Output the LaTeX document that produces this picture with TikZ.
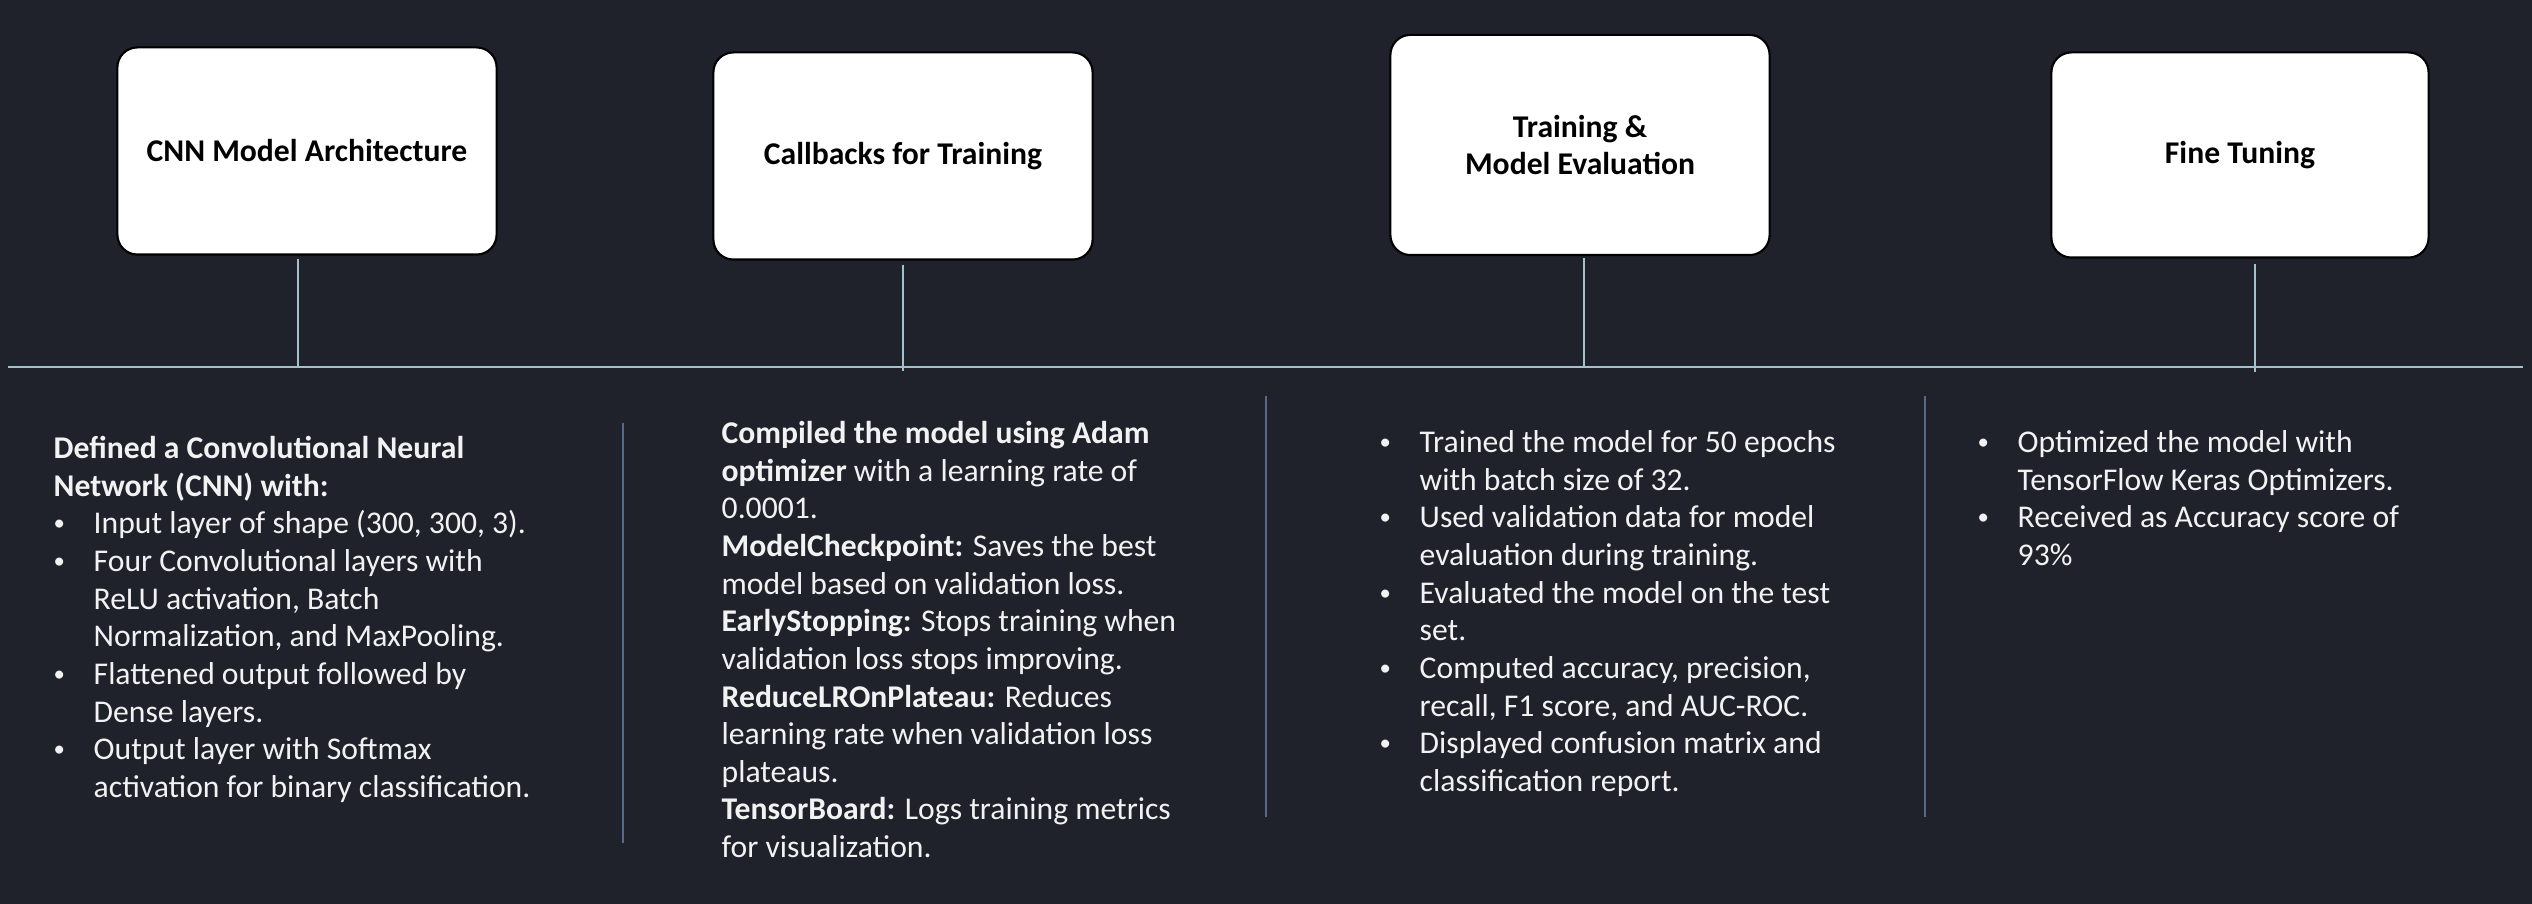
\documentclass[tikz,border=0pt]{standalone}
\usepackage{fontspec}
\setmainfont{Carlito}
\usepackage{tikz}
\definecolor{slidebg}{RGB}{31,34,43}
\definecolor{linkline}{RGB}{164,192,204}
\definecolor{divline}{RGB}{88,104,134}
\definecolor{bodytext}{RGB}{242,242,242}
\newcommand{\bitem}{\makebox[0.40cm][l]{\raisebox{0.9pt}{\scalebox{0.72}{\textbullet}}}}
\newcommand{\bcont}{\hspace*{0.40cm}}
\newcommand{\topstrut}{\rule{0pt}{0.28cm}}

\begin{document}
\begin{tikzpicture}[x=0.01cm,y=-0.01cm,
  stage box/.style={draw=black,line width=0.6pt,fill=white,rounded corners=0.2cm,minimum width=3.79cm,minimum height=2.07cm,align=center,text=black,inner sep=0pt,font=\fontsize{9}{10.4}\selectfont\bfseries},
  info text/.style={anchor=north west,align=left,inner sep=0pt,text=bodytext,font=\fontsize{9}{10.7}\selectfont},
  link/.style={draw=linkline,line width=0.6pt},
  divider/.style={draw=divline,line width=0.5pt}]

\fill [slidebg] (0,0) rectangle (2532,904);

% stages
\node at (307,151) [stage box] (cnn) {CNN Model Architecture};
\node at (903,156) [stage box] (callbacks) {Callbacks for Training};
\node at (1580,145) [stage box,minimum height=2.2cm] (training) {Training \&\\Model Evaluation};
\node at (2240,155) [stage box,minimum width=3.77cm,minimum height=2.05cm] (tuning) {Fine Tuning};

% timeline
\coordinate (lineL) at (8,367);
\coordinate (lineR) at (2523,367);
\coordinate (t1) at (298,367);
\coordinate (t2) at (903,371);
\coordinate (t3) at (1584,366);
\coordinate (t4) at (2255,372);

\draw [link,line width=0.75pt] (lineL) -- (lineR);
\draw [link,shorten <=0.03cm] (cnn.south -| t1) -- (t1);
\draw [link,shorten <=0.04cm] (callbacks.south -| t2) -- (t2);
\draw [link,shorten <=0.02cm] (training.south -| t3) -- (t3);
\draw [link,shorten <=0.05cm] (tuning.south -| t4) -- (t4);

\draw [divider] (623,423) -- (623,843);
\draw [divider] (1266,396) -- (1266,817);
\draw [divider] (1925,396) -- (1925,817);

% details
\node at (53,430) [info text] (cnntext) {\topstrut\textbf{Defined a Convolutional Neural}\\
\textbf{Network (CNN) with:}\\
\bitem Input layer of shape (300, 300, 3).\\
\bitem Four Convolutional layers with\\
\bcont ReLU activation, Batch\\
\bcont Normalization, and MaxPooling.\\
\bitem Flattened output followed by\\
\bcont Dense layers.\\
\bitem Output layer with Softmax\\
\bcont activation for binary classification.};

\node at (721,415) [info text] (callbackstext) {\topstrut\textbf{Compiled the model using Adam}\\
\textbf{optimizer} with a learning rate of\\
0.0001.\\
\textbf{ModelCheckpoint:} Saves the best\\
model based on validation loss.\\
\textbf{EarlyStopping:} Stops training when\\
validation loss stops improving.\\
\textbf{ReduceLROnPlateau:} Reduces\\
learning rate when validation loss\\
plateaus.\\
\textbf{TensorBoard:} Logs training metrics\\
for visualization.};

\node at (1379,424) [info text] (trainingtext) {\topstrut\bitem Trained the model for 50 epochs\\
\bcont with batch size of 32.\\
\bitem Used validation data for model\\
\bcont evaluation during training.\\
\bitem Evaluated the model on the test\\
\bcont set.\\
\bitem Computed accuracy, precision,\\
\bcont recall, F1 score, and AUC-ROC.\\
\bitem Displayed confusion matrix and\\
\bcont classification report.};

\node at (1977,424) [info text] (tuningtext) {\topstrut\bitem Optimized the model with\\
\bcont TensorFlow Keras Optimizers.\\
\bitem Received as Accuracy score of\\
\bcont 93\%};
\end{tikzpicture}
\end{document}
